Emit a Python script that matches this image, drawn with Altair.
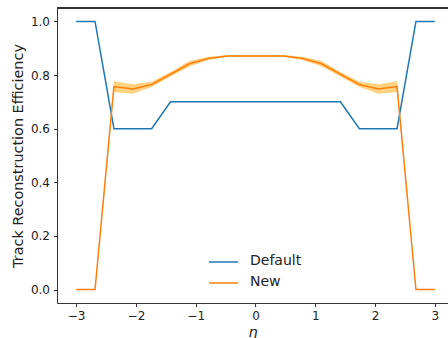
import altair as alt
import pandas as pd

# pseudorapidity bins
eta = [-3.0, -2.684, -2.368, -2.053, -1.737, -1.421, -1.105, -0.789, -0.474, -0.158,
       0.158, 0.474, 0.789, 1.105, 1.421, 1.737, 2.053, 2.368, 2.684, 3.0]

# efficiency per bin
eff_default = [1.0, 1.0, 0.6, 0.6, 0.6, 0.7, 0.7, 0.7, 0.7, 0.7,
               0.7, 0.7, 0.7, 0.7, 0.7, 0.6, 0.6, 0.6, 1.0, 1.0]
eff_new = [0.0, 0.0, 0.757, 0.748, 0.765, 0.803, 0.842, 0.862, 0.871, 0.871,
           0.871, 0.871, 0.862, 0.842, 0.803, 0.765, 0.748, 0.757, 0.0, 0.0]
eff_new_lo = [0.0, 0.0, 0.737, 0.730, 0.755, 0.795, 0.832, 0.856, 0.868, 0.869,
              0.869, 0.868, 0.856, 0.832, 0.795, 0.755, 0.730, 0.737, 0.0, 0.0]
eff_new_hi = [0.0, 0.0, 0.777, 0.766, 0.775, 0.811, 0.852, 0.868, 0.874, 0.873,
              0.873, 0.874, 0.868, 0.852, 0.811, 0.775, 0.766, 0.777, 0.0, 0.0]

series_names = ["Default", "New"]
series_colors = ["#1f77b4", "#ff7f0e"]

lines = pd.DataFrame({
    "eta": eta * 2,
    "eff": eff_default + eff_new,
    "series": ["Default"] * len(eta) + ["New"] * len(eta),
})
band = pd.DataFrame({"eta": eta, "lo": eff_new_lo, "hi": eff_new_hi})

W, H = 391, 295
FONT = "DejaVu Sans"
INK = "#222"

xs = alt.Scale(domain=[-3.32, 3.22], nice=False, zero=False)
ys = alt.Scale(domain=[-0.05, 1.05], nice=False, zero=False)
cs = alt.Scale(domain=series_names, range=series_colors)

x_axis = alt.Axis(values=[-3, -2, -1, 0, 1, 2, 3], format="d", grid=False,
                  title="η", titleFontStyle="italic", titleFontWeight="normal",
                  titleFontSize=14.4, titlePadding=4, labelFontSize=12,
                  labelPadding=4, tickSize=3.5, domainColor="#333",
                  tickColor="#333", labelColor=INK, titleColor=INK,
                  labelFont=FONT, titleFont=FONT)
y_axis = alt.Axis(values=[0, 0.2, 0.4, 0.6, 0.8, 1.0], format=".1f", grid=False,
                  title="Track Reconstruction Efficiency", titleFontWeight="normal",
                  titleFontSize=14.4, titlePadding=5, labelFontSize=12,
                  labelPadding=4, tickSize=3.5, domainColor="#333",
                  tickColor="#333", labelColor=INK, titleColor=INK,
                  labelFont=FONT, titleFont=FONT)

# uncertainty band of the new efficiency
area = alt.Chart(band).mark_area(color="orange", opacity=0.5).encode(
    x=alt.X("eta:Q", scale=xs, axis=x_axis),
    y=alt.Y("lo:Q", scale=ys, axis=y_axis),
    y2="hi:Q",
)

line = alt.Chart(lines).mark_line(strokeWidth=1.5).encode(
    x=alt.X("eta:Q", scale=xs),
    y=alt.Y("eff:Q", scale=ys),
    color=alt.Color("series:N", scale=cs, legend=None),
    order=alt.Order("series:N"),
)

# legend: short line swatch plus label for each series
legend_df = pd.DataFrame({"series": series_names, "row": [0, 1]})
legend_base = alt.Chart(legend_df).transform_calculate(
    ypix="254 + 21 * datum.row"
)
swatch = legend_base.mark_rule(strokeWidth=1.5).encode(
    x=alt.value(152), x2=alt.value(181),
    y=alt.Y("ypix:Q", scale=None),
    color=alt.Color("series:N", scale=cs, legend=None),
)
labels = legend_base.mark_text(align="left", baseline="middle", fontSize=14,
                               font=FONT, color=INK, dy=-1).encode(
    x=alt.value(193),
    y=alt.Y("ypix:Q", scale=None),
    text="series:N",
)

# top edge of the axes frame
top_edge = alt.Chart(band).mark_rule(color="#333", strokeWidth=1).encode(
    x=alt.value(0), x2=alt.value(W), y=alt.value(0)
)

chart = alt.layer(area, line, swatch, labels, top_edge).properties(
    width=W, height=H,
    padding={"left": 57, "top": 8, "right": 0, "bottom": 35},
    autosize=alt.AutoSizeParams(type="none"),
).configure_view(stroke=None).configure(font=FONT)

chart.save("out.html", embed_options={"renderer": "svg", "actions": False})
